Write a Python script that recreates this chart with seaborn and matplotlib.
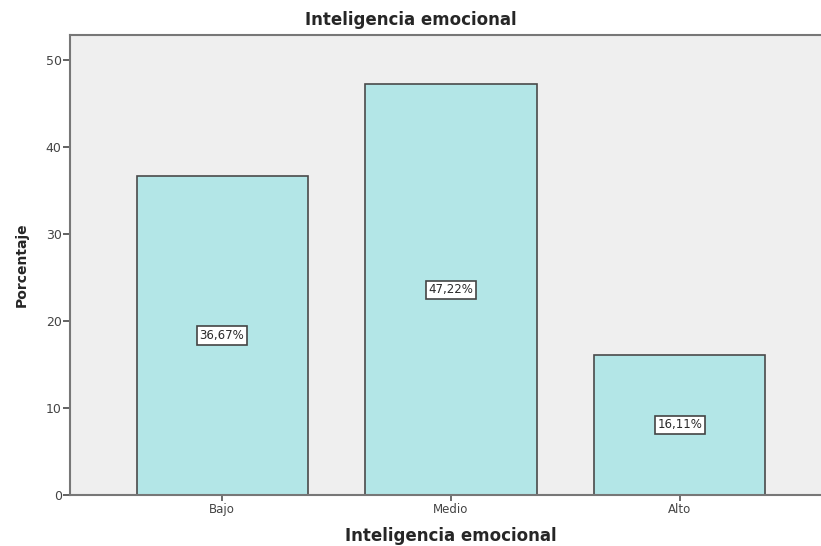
import matplotlib
matplotlib.use("Agg")
import matplotlib.pyplot as plt
import seaborn as sns
import pandas as pd

# datos
niveles = ["Bajo", "Medio", "Alto"]
porcentajes = [36.67, 47.22, 16.11]
etiquetas = ["36,67%", "47,22%", "16,11%"]

df = pd.DataFrame({"nivel": niveles, "pct": porcentajes})

sns.set_style("white")
plt.rcParams['font.family'] = ['DejaVu Sans']

fig = plt.figure(figsize=(8.21, 5.46), dpi=100)
ax = fig.add_axes([70 / 821, 1 - 495 / 546, (832 - 70) / 821, (495 - 35) / 546])
ax.set_facecolor("#efefef")

sns.barplot(data=df, x="nivel", y="pct", order=niveles, color="#b3e6e7",
            saturation=1, width=0.747, edgecolor="#4a4a4a", linewidth=1.2, ax=ax)

for i, (v, lab) in enumerate(zip(porcentajes, etiquetas)):
    ax.text(i, v / 2, lab, ha="center", va="center", fontsize=8.5, color="#2a2a2a",
            bbox=dict(boxstyle="square,pad=0.22", fc="white", ec="#444444", lw=1.2))

ax.set_xlim(-0.664, 2.664)
ax.set_ylim(0, 52.9)
ax.set_yticks([0, 10, 20, 30, 40, 50])

for s in ["left", "bottom", "top"]:
    ax.spines[s].set_visible(True)
    ax.spines[s].set_color("#777777")
    ax.spines[s].set_linewidth(1.5)
ax.spines["right"].set_visible(False)

ax.tick_params(axis="y", which="both", left=True, length=5, width=1.3, color="#555555",
               labelsize=9, labelcolor="#444444", pad=1)
ax.tick_params(axis="x", which="both", bottom=True, length=4, width=1.2, color="#555555",
               labelsize=8.5, labelcolor="#444444", pad=2)

ax.set_xlabel("Inteligencia emocional", fontsize=12, fontweight="bold", labelpad=8)
ax.set_ylabel("Porcentaje", fontsize=10, fontweight="bold", labelpad=12)

fig.text(0.5, 1 - 20 / 546, "Inteligencia emocional", ha="center", va="center",
         fontsize=12, fontweight="bold")

plt.savefig("out.png", dpi=100)
plt.close()
